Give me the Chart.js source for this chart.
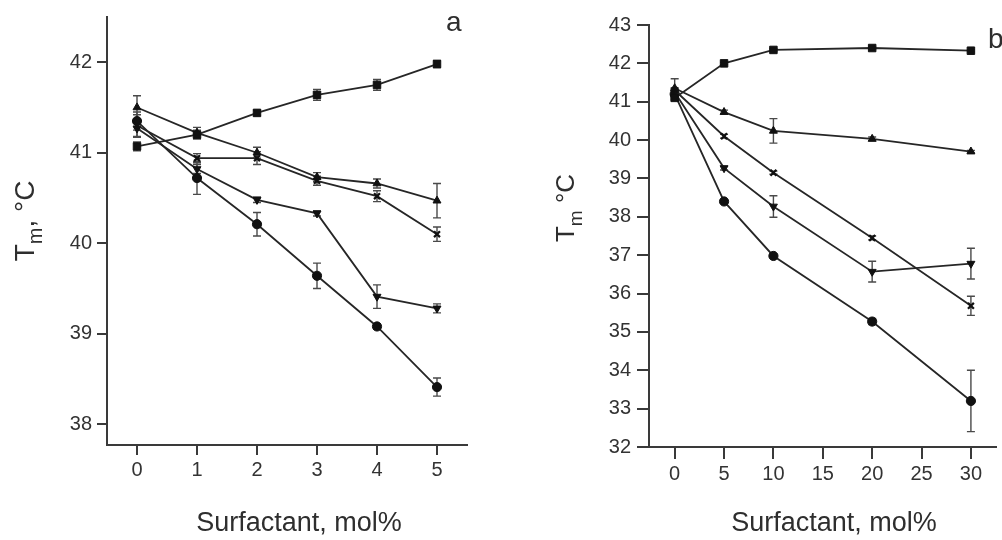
<!DOCTYPE html>
<html>
<head>
<meta charset="utf-8">
<script src="https://cdn.jsdelivr.net/npm/chart.js@4.4.1/dist/chart.umd.min.js"></script>
<style>
  html, body { margin: 0; padding: 0; background: #ffffff; }
  body { width: 1002px; height: 540px; position: relative; overflow: hidden; }
  #wa { position: absolute; left: 0; top: 0; width: 510px; height: 540px; }
  #wb { position: absolute; left: 520px; top: 0; width: 482px; height: 540px; }
</style>
</head>
<body>
<div id="wa"><canvas id="ca"></canvas></div>
<div id="wb"><canvas id="cb"></canvas></div>
<script>
// ---------- Panel a data ----------
const xA = [0, 1, 2, 3, 4, 5];
const a1 = [41.07, 41.20, 41.44, 41.64, 41.75, 41.98];
const a1Err = [0.05, 0.05, 0.03, 0.06, 0.06, 0.04];
const a2 = [41.50, 41.22, 41.00, 40.73, 40.66, 40.47];
const a2Err = [0.13, 0.06, 0.06, 0.05, 0.05, 0.19];
const a3 = [41.30, 40.94, 40.94, 40.69, 40.52, 40.10];
const a3Err = [0.12, 0.05, 0.07, 0.05, 0.06, 0.08];
const a4 = [41.27, 40.82, 40.48, 40.33, 39.41, 39.28];
const a4Err = [0.10, 0.05, 0.03, 0.03, 0.13, 0.05];
const a5 = [41.35, 40.72, 40.21, 39.64, 39.08, 38.41];
const a5Err = [0.10, 0.18, 0.13, 0.14, 0.03, 0.10];
const xTicksA = [0, 1, 2, 3, 4, 5];
const yTicksA = [38, 39, 40, 41, 42];

// ---------- Panel b data ----------
const xB = [0, 5, 10, 20, 30];
const b1 = [41.10, 42.00, 42.35, 42.40, 42.33];
const b1Err = [0.05, 0.03, 0.03, 0.03, 0.03];
const b2 = [41.35, 40.73, 40.24, 40.03, 39.70];
const b2Err = [0.25, 0.05, 0.32, 0.05, 0.03];
const b3 = [41.30, 40.10, 39.15, 37.45, 35.68];
const b3Err = [0.05, 0.05, 0.04, 0.05, 0.25];
const b4 = [41.25, 39.27, 38.27, 36.57, 36.78];
const b4Err = [0.10, 0.05, 0.28, 0.27, 0.40];
const b5 = [41.20, 38.40, 36.98, 35.27, 33.20];
const b5Err = [0.10, 0.04, 0.04, 0.08, 0.80];
const xTicksB = [0, 5, 10, 15, 20, 25, 30];
const yTicksB = [32, 33, 34, 35, 36, 37, 38, 39, 40, 41, 42, 43];

const FONT = "'Liberation Sans', Arial, Helvetica, sans-serif";
const INK = '#262626';
const AXIS = '#3a3a3a';

function ds(xs, ys, errs, style, rot) {
  return {
    data: xs.map((x, i) => ({ x: x, y: ys[i] })),
    errors: errs,
    showLine: true,
    borderColor: INK,
    borderWidth: 1.8,
    backgroundColor: '#111',
    pointBorderColor: '#111',
    pointBackgroundColor: '#111',
    pointStyle: style,
    pointRotation: rot || 0,
    pointRadius: style === 'rect' ? 5.3 : (style === 'crossRot' ? 4.2 : 4.6),
    pointBorderWidth: style === 'crossRot' ? 2.2 : 1,
    tension: 0,
    clip: false
  };
}

const errorBars = {
  id: 'errorBars',
  beforeDatasetsDraw(chart) {
    const ctx = chart.ctx;
    const xs = chart.scales.x, ys = chart.scales.y;
    ctx.save();
    ctx.strokeStyle = '#4a4a4a';
    ctx.lineWidth = 1.4;
    chart.data.datasets.forEach(d => {
      d.data.forEach((p, i) => {
        const e = d.errors[i];
        const px = xs.getPixelForValue(p.x);
        const y1 = ys.getPixelForValue(p.y + e);
        const y2 = ys.getPixelForValue(p.y - e);
        ctx.beginPath();
        ctx.moveTo(px, y1); ctx.lineTo(px, y2);
        ctx.moveTo(px - 4, y1); ctx.lineTo(px + 4, y1);
        ctx.moveTo(px - 4, y2); ctx.lineTo(px + 4, y2);
        ctx.stroke();
      });
    });
    ctx.restore();
  }
};

function textPlugin(opts) {
  return {
    id: 'texts',
    afterDraw(chart) {
      const ctx = chart.ctx;
      ctx.save();
      ctx.fillStyle = '#2e2e2e';
      // x title
      ctx.font = opts.xFont + 'px ' + FONT;
      ctx.textAlign = 'center';
      ctx.textBaseline = 'middle';
      ctx.fillText('Surfactant, mol%', opts.xTitle[0], opts.xTitle[1]);
      // panel letter
      ctx.font = opts.letterFont + 'px ' + FONT;
      ctx.textAlign = 'left';
      ctx.textBaseline = 'alphabetic';
      ctx.fillText(opts.letter, opts.letterPos[0], opts.letterPos[1]);
      // y title with subscript, rotated
      ctx.translate(opts.yTitle[0], opts.yTitle[1]);
      ctx.rotate(-Math.PI / 2);
      const big = opts.yFont, small = Math.round(opts.yFont * 0.72);
      const parts = [
        { t: 'T', s: big, dy: 0 },
        { t: 'm', s: small, dy: Math.round(big * 0.3) },
        { t: opts.yRest, s: big, dy: 0 }
      ];
      let total = 0;
      parts.forEach(p => { ctx.font = p.s + 'px ' + FONT; p.w = ctx.measureText(p.t).width; total += p.w; });
      let x = -total / 2;
      ctx.textAlign = 'left';
      ctx.textBaseline = 'alphabetic';
      parts.forEach(p => {
        ctx.font = p.s + 'px ' + FONT;
        ctx.fillText(p.t, x, big * 0.36 + p.dy);
        x += p.w;
      });
      ctx.restore();
    }
  };
}

function makeChart(id, datasets, o) {
  return new Chart(document.getElementById(id), {
    type: 'scatter',
    data: { datasets: datasets },
    options: {
      responsive: true,
      maintainAspectRatio: false,
      animation: false,
      events: [],
      layout: { padding: { left: 0, right: o.padRight, top: o.padTop, bottom: 0 } },
      plugins: { legend: { display: false }, tooltip: { enabled: false } },
      scales: {
        x: {
          type: 'linear',
          min: o.xMin, max: o.xMax,
          afterBuildTicks: s => { s.ticks = o.xTicks.map(v => ({ value: v })); },
          afterFit: s => { s.height = o.xHeight; },
          grid: { display: true, drawOnChartArea: false, drawTicks: true, tickLength: o.tickLen, color: AXIS, lineWidth: 2 },
          border: { display: true, color: AXIS, width: 2 },
          ticks: { color: '#333', font: { family: FONT, size: 20 }, padding: 3, maxRotation: 0, autoSkip: false }
        },
        y: {
          type: 'linear',
          min: o.yMin, max: o.yMax,
          afterBuildTicks: s => { s.ticks = o.yTicks.map(v => ({ value: v })); },
          afterFit: s => { s.width = o.yWidth; },
          grid: { display: true, drawOnChartArea: false, drawTicks: true, tickLength: o.tickLen, color: AXIS, lineWidth: 2 },
          border: { display: true, color: AXIS, width: 2 },
          ticks: { color: '#333', font: { family: FONT, size: 20 }, padding: o.yPad, autoSkip: false }
        }
      }
    },
    plugins: [errorBars, textPlugin(o)]
  });
}

makeChart('ca', [
  ds(xA, a1, a1Err, 'rect'),
  ds(xA, a2, a2Err, 'triangle'),
  ds(xA, a3, a3Err, 'crossRot'),
  ds(xA, a4, a4Err, 'triangle', 180),
  ds(xA, a5, a5Err, 'circle')
], {
  xMin: -0.5, xMax: 5.5, yMin: 37.77, yMax: 42.5,
  xTicks: xTicksA, yTicks: yTicksA,
  yWidth: 107, xHeight: 95, padRight: 43, padTop: 16,
  tickLen: 10, yPad: 5,
  xTitle: [299, 524], xFont: 27,
  letter: 'a', letterPos: [446, 31], letterFont: 28,
  yTitle: [24, 221], yFont: 28, yRest: ', \u00B0C'
});

makeChart('cb', [
  ds(xB, b1, b1Err, 'rect'),
  ds(xB, b2, b2Err, 'triangle'),
  ds(xB, b3, b3Err, 'crossRot'),
  ds(xB, b4, b4Err, 'triangle', 180),
  ds(xB, b5, b5Err, 'circle')
], {
  xMin: -2.6, xMax: 32.5, yMin: 32, yMax: 43,
  xTicks: xTicksB, yTicks: yTicksB,
  yWidth: 129, xHeight: 93, padRight: 0, padTop: 25,
  tickLen: 12, yPad: 6,
  xTitle: [314, 524], xFont: 27,
  letter: 'b', letterPos: [468, 48], letterFont: 28,
  yTitle: [45, 208], yFont: 26, yRest: ' \u00B0C'
});
</script>
</body>
</html>
